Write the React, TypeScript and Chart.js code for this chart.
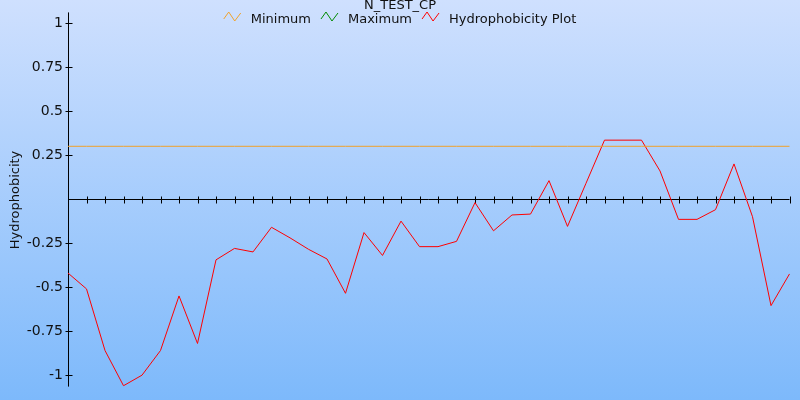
import React, { useEffect, useRef } from 'react';
import { Chart, registerables } from 'chart.js';

Chart.register(...registerables);

const chartTitle = 'N_TEST_CP';
const yAxisTitle = 'Hydrophobicity';

const positions = [
  '1', '2', '3', '4', '5', '6', '7', '8', '9', '10',
  '11', '12', '13', '14', '15', '16', '17', '18', '19', '20',
  '21', '22', '23', '24', '25', '26', '27', '28', '29', '30',
  '31', '32', '33', '34', '35', '36', '37', '38', '39', '40',
];

const hydrophobicity = [
  -0.42, -0.51, -0.86, -1.06, -1.0, -0.86, -0.55, -0.82, -0.345, -0.28,
  -0.3, -0.16, -0.22, -0.285, -0.34, -0.535, -0.19, -0.32, -0.125, -0.27,
  -0.27, -0.24, -0.02, -0.18, -0.09, -0.085, 0.105, -0.155, 0.09, 0.335,
  0.335, 0.335, 0.16, -0.115, -0.115, -0.06, 0.2, -0.1, -0.605, -0.425,
];

const minimumLevel = 0.3;
const maximumValues: number[] = [];

const yTickValues = [1, 0.75, 0.5, 0.25, -0.25, -0.5, -0.75, -1];

const seriesLabels = ['Minimum', 'Maximum', 'Hydrophobicity Plot'];
const seriesColors = ['#f0a22c', '#008a00', '#ff0000'];

const FONT = '"DejaVu Sans", Verdana, sans-serif';

const decorPlugin = {
  id: 'decor',
  beforeDatasetsDraw(chart: any) {
    const { ctx, chartArea, scales } = chart;
    const xs = scales.x;
    const ys = scales.y;
    ctx.save();
    ctx.strokeStyle = '#000';
    ctx.lineWidth = 1;
    const ax = Math.round(chartArea.left) + 0.5;
    const y0 = Math.round(ys.getPixelForValue(0)) + 0.5;
    ctx.beginPath();
    ctx.moveTo(ax, chartArea.top - 1);
    ctx.lineTo(ax, chartArea.bottom);
    ctx.moveTo(chartArea.left, y0);
    ctx.lineTo(chartArea.right, y0);
    for (const v of yTickValues) {
      const py = Math.round(ys.getPixelForValue(v)) + 0.5;
      ctx.moveTo(ax - 3, py);
      ctx.lineTo(ax + 4, py);
    }
    for (let i = 1; i < positions.length; i++) {
      const px = Math.round(xs.getPixelForValue(i)) + 0.5;
      ctx.moveTo(px, y0 - 3);
      ctx.lineTo(px, y0 + 4);
    }
    ctx.stroke();
    ctx.restore();
  },
  afterDraw(chart: any) {
    const { ctx } = chart;
    const cx = chart.width / 2;
    ctx.save();
    ctx.font = `13px ${FONT}`;
    ctx.fillStyle = '#111';
    ctx.textBaseline = 'alphabetic';
    ctx.textAlign = 'center';
    ctx.fillText(chartTitle, cx, 9);

    const iconW = 17;
    const gap = 10;
    const itemGap = 10;
    const widths = seriesLabels.map((l) => ctx.measureText(l).width);
    const total =
      widths.reduce((a, w) => a + iconW + gap + w, 0) + itemGap * (seriesLabels.length - 1);
    let x = cx - total / 2;
    ctx.textAlign = 'left';
    seriesLabels.forEach((label, i) => {
      ctx.strokeStyle = seriesColors[i];
      ctx.lineWidth = 1;
      ctx.beginPath();
      ctx.moveTo(x, 19);
      ctx.lineTo(x + 5, 12);
      ctx.lineTo(x + 11, 21);
      ctx.lineTo(x + iconW, 13);
      ctx.stroke();
      x += iconW + gap;
      ctx.fillStyle = '#111';
      ctx.fillText(label, x, 23);
      x += widths[i] + itemGap;
    });
    ctx.restore();
  },
};

export default function App() {
  const canvasRef = useRef<HTMLCanvasElement | null>(null);

  useEffect(() => {
    const canvas = canvasRef.current;
    if (!canvas) return;
    const chart = new Chart(canvas, {
      type: 'line',
      data: {
        labels: positions,
        datasets: [
          {
            label: seriesLabels[0],
            data: positions.map(() => minimumLevel),
            borderColor: seriesColors[0],
            backgroundColor: seriesColors[0],
            borderWidth: 1,
            pointRadius: 0,
            tension: 0,
          },
          {
            label: seriesLabels[1],
            data: maximumValues,
            borderColor: seriesColors[1],
            backgroundColor: seriesColors[1],
            borderWidth: 1,
            pointRadius: 0,
            tension: 0,
          },
          {
            label: seriesLabels[2],
            data: hydrophobicity,
            borderColor: seriesColors[2],
            backgroundColor: seriesColors[2],
            borderWidth: 1,
            pointRadius: 0,
            tension: 0,
          },
        ],
      },
      options: {
        responsive: false,
        animation: false,
        layout: { padding: { left: 0, right: 10.5, top: 10.9, bottom: 10.7 } },
        plugins: {
          legend: { display: false },
          title: { display: false },
          tooltip: { enabled: false },
        },
        scales: {
          x: {
            type: 'category',
            display: false,
            offset: false,
          },
          y: {
            type: 'linear',
            min: -1.065,
            max: 1.055,
            afterFit: (s: any) => {
              s.width = 68;
            },
            afterBuildTicks: (s: any) => {
              s.ticks = yTickValues.map((v) => ({ value: v }));
            },
            grid: { display: false, drawTicks: false },
            border: { display: false },
            ticks: {
              padding: 5,
              color: '#111',
              font: { family: FONT, size: 14 },
              callback: (v: any) => String(v),
            },
            title: {
              display: true,
              text: yAxisTitle,
              color: '#111',
              font: { family: FONT, size: 13 },
              padding: { top: 8, bottom: 0 },
            },
          },
        },
      },
      plugins: [decorPlugin],
    });
    return () => chart.destroy();
  }, []);

  return (
    <div
      style={{
        position: 'fixed',
        left: 0,
        top: 0,
        width: 800,
        height: 400,
        background: 'linear-gradient(to bottom, #cfe0fe, #7db9fb)',
      }}
    >
      <canvas ref={canvasRef} width={800} height={400} style={{ display: 'block' }} />
    </div>
  );
}
